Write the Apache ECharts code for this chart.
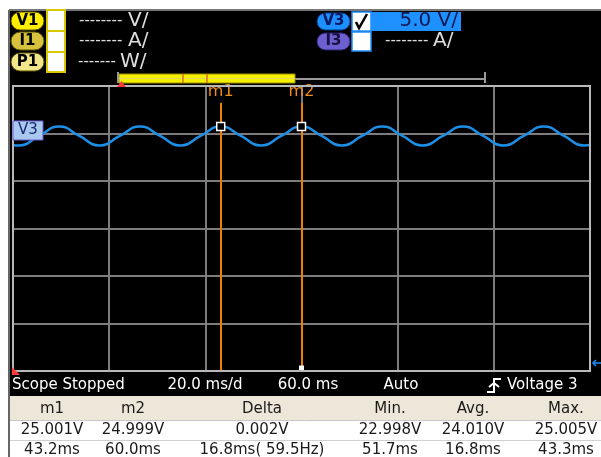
<!DOCTYPE html>
<html>
<head>
<meta charset="utf-8">
<script src="https://cdn.jsdelivr.net/npm/echarts@6/dist/echarts.min.js"></script>
<style>
html, body { margin: 0; padding: 0; background: #fff; }
#chart { width: 601px; height: 457px; }
</style>
</head>
<body>
<div id="chart"></div>
<script>
// V3 trace (ms, V)
const times = [0, 1.2, 5.4, 9.6, 13.8, 18.0, 22.2, 26.4, 30.6, 34.8, 39.0, 43.2, 47.4, 51.6, 55.8, 60.0,
  64.2, 68.4, 72.6, 76.8, 81.0, 85.2, 89.4, 93.6, 97.8, 102.0, 106.2, 110.4, 114.6, 118.8, 120];
const volts = [23.03, 23.0, 24.0, 25.0, 24.0, 23.0, 24.0, 25.0, 24.0, 23.0, 24.0, 25.0, 24.0, 23.0, 24.0, 25.0,
  24.0, 23.0, 24.0, 25.0, 24.0, 23.0, 24.0, 25.0, 24.0, 23.0, 24.0, 25.0, 24.0, 23.0, 23.05];

// markers
const markerNames = ['m1', 'm2'];
const markerTimes = [43.2, 60.0];
const markerVolts = [25.001, 24.999];

// measurement table
const tableHeader = ['m1', 'm2', 'Delta', 'Min.', 'Avg.', 'Max.'];
const rowVolts = ['25.001V', '24.999V', '0.002V', '22.998V', '24.010V', '25.005V'];
const rowTimes = ['43.2ms', '60.0ms', '16.8ms( 59.5Hz)', '51.7ms', '16.8ms', '43.3ms'];

// axis setup: 20 ms/div, 5 V/div
const timeMin = 0, timeMax = 120, timeDiv = 20;
const voltTop = 29.26, voltBottom = -0.74;
const markerTop = 27.5;

const FONT = 'DejaVu Sans';
const colX = [52, 133, 262, 390, 473, 566];

const g = [];
const rect = (x, y, w, h, fill, stroke, lw, r) => g.push({
  type: 'rect', z: 100, shape: { x, y, width: w, height: h, r: r || 0 },
  style: { fill: fill || 'none', stroke: stroke || null, lineWidth: lw || 1 }
});
const line = (x1, y1, x2, y2, color, lw) => g.push({
  type: 'line', z: 100, shape: { x1, y1, x2, y2 }, style: { stroke: color, lineWidth: lw || 1 }
});
const text = (x, y, s, size, color, align, weight) => g.push({
  type: 'text', z: 101, x, y,
  style: { text: s, fontSize: size, fontFamily: FONT, fill: color, align: align || 'left',
    verticalAlign: 'middle', fontWeight: weight || 'normal' }
});
const poly = (pts, fill, stroke, lw) => g.push({
  type: fill ? 'polygon' : 'polyline', z: 101, shape: { points: pts },
  style: { fill: fill || 'none', stroke: stroke || null, lineWidth: lw || 1 }
});

// screen background
g.push({ type: 'rect', z: -10, shape: { x: 9, y: 10, width: 592, height: 386 }, style: { fill: '#000' } });
line(9, 10, 601, 10, '#777', 2);
line(9, 10, 9, 457, '#666', 2);

// channel badges (left)
const badges = [['V1', '#ffee00', 11], ['I1', '#d6c23c', 31], ['P1', '#f2e68a', 52]];
badges.forEach(b => {
  rect(11, b[2] + 1, 33, 18, b[1], '#5a5200', 1, 9);
  text(27.5, b[2] + 10, b[0], 15, '#000', 'center', 'bold');
});
rect(47, 10, 18, 62, '#fff', '#d8c800', 2);
line(47, 31, 65, 31, '#d8c800', 2);
line(47, 52, 65, 52, '#d8c800', 2);
text(79, 21, '--------', 15, '#ddd');
text(128, 21, 'V/', 20, '#ddd');
text(79, 41, '--------', 15, '#ddd');
text(128, 41, 'A/', 20, '#ddd');
text(78, 62, '-------', 15, '#ddd');
text(120, 62, 'W/', 20, '#ddd');

// channel badges (right)
rect(317, 13, 33, 17, '#1e8fff', '#003f90', 1, 8.5);
text(333.5, 21.5, 'V3', 15, '#0a1a60', 'center', 'bold');
rect(352, 12, 19, 19, '#fff', '#1e8fff', 1.5);
poly([[356, 22], [359, 28], [367, 14]], null, '#000', 2.5);
rect(371, 12, 90, 19, '#1e90ff');
text(458, 21, '5.0 V/', 20, '#0a1a50', 'right');
rect(317, 33, 33, 17, '#6c5fcf', '#2a2070', 1, 8.5);
text(333.5, 41.5, 'I3', 15, '#1a1040', 'center', 'bold');
rect(352, 32, 19, 19, '#fff', '#1e8fff', 1.5);
text(385, 41, '--------', 15, '#ddd');
text(433, 41, 'A/', 20, '#ddd');

// time bar
line(118, 79, 485, 79, '#9a9a9a', 2);
line(485, 72, 485, 83, '#9a9a9a', 2);
rect(119, 74, 176, 9, '#f5ef00', '#9c9200', 1);
line(119, 78.5, 295, 78.5, '#e0d860', 1);
line(183, 74, 183, 83, '#e07000', 1.5);
line(207, 74, 207, 83, '#e07000', 1.5);
line(118, 72, 118, 83, '#9a9a9a', 2);
poly([[117, 87], [121.5, 81], [126, 87]], '#ff3a3a');

// plot border
rect(13, 86, 577, 285, null, '#b8b8b8', 2);
poly([[12, 367], [12, 375], [20, 375]], '#ff3a3a');
poly([[596, 360], [593, 363], [596, 366]], null, '#1e90ff', 1.5);
line(593, 363, 601, 363, '#1e90ff', 1.5);

// V3 level tag
rect(13, 121, 30, 19, '#a8c8f0', '#6a5acd', 1);
text(28, 130.5, 'V3', 15, '#1a2a70', 'center');

// status line
text(12, 385, 'Scope Stopped', 15, '#fff');
text(205, 385, '20.0 ms/d', 15, '#fff', 'center');
text(308, 385, '60.0 ms', 15, '#fff', 'center');
text(401, 385, 'Auto', 15, '#fff', 'center');
poly([[487, 392], [494, 392], [494, 379], [501, 379]], null, '#fff', 2);
poly([[489, 387], [494, 383], [499, 387]], null, '#fff', 2);
text(507, 385, 'Voltage 3', 15, '#fff');

// measurement table
rect(10, 396, 591, 24, '#ece7d8');
line(10, 420.5, 601, 420.5, '#c8c8c8', 1);
line(10, 440.5, 601, 440.5, '#d0d0d0', 1);
tableHeader.forEach((s, i) => text(colX[i], 409, s, 15, '#1a1a1a', 'center'));
rowVolts.forEach((s, i) => text(colX[i], 430, s, 15, '#1a1a1a', 'center'));
rowTimes.forEach((s, i) => text(colX[i], 450, s, 15, '#1a1a1a', 'center'));

const chart = echarts.init(document.getElementById('chart'));
chart.setOption({
  backgroundColor: '#fff',
  animation: false,
  grid: { left: 13, top: 86, right: 11, bottom: 86 },
  xAxis: {
    type: 'value', min: timeMin, max: timeMax, interval: timeDiv,
    axisLine: { show: false }, axisTick: { show: false }, axisLabel: { show: false },
    splitLine: { lineStyle: { color: '#7c7c7c', width: 2 } }
  },
  yAxis: [
    {
      type: 'value', min: 0, max: 6, interval: 1,
      axisLine: { show: false }, axisTick: { show: false }, axisLabel: { show: false },
      splitLine: { lineStyle: { color: '#7c7c7c', width: 2 } }
    },
    { type: 'value', min: voltBottom, max: voltTop, show: false, splitLine: { show: false } }
  ],
  series: [{
    type: 'line',
    yAxisIndex: 1,
    data: times.map((t, i) => [t, volts[i]]),
    smooth: 0.5,
    showSymbol: false,
    lineStyle: { color: '#1d8fe6', width: 2.5 },
    markLine: {
      silent: true,
      symbol: 'none',
      lineStyle: { color: '#f07d00', width: 2, type: 'solid' },
      label: {
        show: true, position: 'start', distance: 3, color: '#f08c1e', fontSize: 16, fontFamily: FONT,
        formatter: p => markerNames[p.dataIndex]
      },
      data: markerTimes.map(t => [{ coord: [t, markerTop] }, { coord: [t, voltBottom] }])
    },
    markPoint: {
      silent: true,
      symbol: 'rect',
      symbolSize: 8,
      label: { show: false },
      itemStyle: { color: '#000', borderColor: '#fff', borderWidth: 1.5 },
      data: markerTimes.map((t, i) => ({ coord: [t, markerVolts[i]] })).concat([{
        coord: [markerTimes[1], voltBottom], symbolSize: 5, symbolOffset: [0, -3],
        itemStyle: { color: '#fff', borderWidth: 0 }
      }])
    }
  }],
  graphic: g
});
</script>
</body>
</html>
